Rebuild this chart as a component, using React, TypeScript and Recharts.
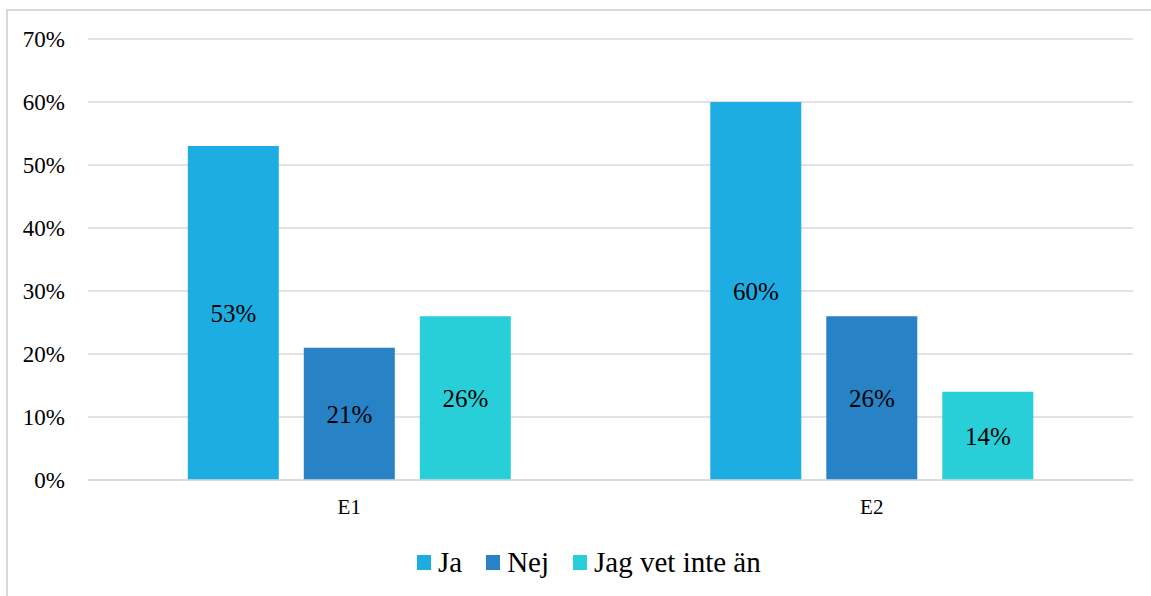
import { BarChart, Bar, XAxis, YAxis, CartesianGrid, Legend, LabelList } from 'recharts';

const categories = ['E1', 'E2'];
const ja = [53, 60];
const nej = [21, 26];
const vetInte = [26, 14];
const yTicks = [0, 10, 20, 30, 40, 50, 60, 70];

const SERIES = [
  { key: 'ja', name: 'Ja', color: '#1EADE3' },
  { key: 'nej', name: 'Nej', color: '#2782C6' },
  { key: 'vetInte', name: 'Jag vet inte än', color: '#29CFD8' },
];

const data = categories.map((name, i) => ({
  name,
  ja: ja[i],
  nej: nej[i],
  vetInte: vetInte[i],
}));

const FONT = 'Liberation Serif';

const renderLegend = () => (
  <div style={{ display: 'flex', alignItems: 'center', height: 40, paddingLeft: 417, fontFamily: FONT }}>
    {SERIES.map((s) => (
      <div key={s.key} style={{ display: 'flex', alignItems: 'center', marginRight: 24 }}>
        <span style={{ width: 14, height: 15, background: s.color, marginRight: 7, display: 'inline-block' }} />
        <span style={{ fontSize: 29, color: '#000', lineHeight: '40px' }}>{s.name}</span>
      </div>
    ))}
  </div>
);

export default function App() {
  return (
    <div style={{ position: 'fixed', left: 0, top: 0, width: 1151, height: 596, overflow: 'hidden', background: '#fff', fontFamily: FONT }}>
      {/* light grey frame, open on the right and bottom */}
      <div
        style={{
          position: 'absolute',
          left: 6,
          top: 9,
          width: 1160,
          height: 600,
          border: '2px solid #d9d9d9',
          boxSizing: 'border-box',
        }}
      />
      <div style={{ position: 'absolute', left: 0, top: 0 }}>
        <BarChart
          width={1151}
          height={596}
          data={data}
          margin={{ top: 39, right: 18, bottom: 14, left: 0 }}
          barCategoryGap="19.1%"
          barGap={25}
          style={{ fontFamily: FONT }}
        >
          <CartesianGrid vertical={false} stroke="#d9d9d9" strokeWidth={1.5} />
          <XAxis
            dataKey="name"
            height={62}
            axisLine={{ stroke: '#d9d9d9', strokeWidth: 1.5 }}
            tickLine={false}
            tickMargin={13}
            tick={{ fontSize: 21, fill: '#000', fontFamily: FONT }}
          />
          <YAxis
            width={88}
            domain={[0, 70]}
            ticks={yTicks}
            axisLine={false}
            tickLine={false}
            tickMargin={17}
            tickFormatter={(v) => `${v}%`}
            tick={{ fontSize: 23, fill: '#000', fontFamily: FONT }}
          />
          <Legend verticalAlign="bottom" content={renderLegend} wrapperStyle={{ left: 0, width: 1151 }} />
          {SERIES.map((s) => (
            <Bar key={s.key} dataKey={s.key} name={s.name} fill={s.color} isAnimationActive={false}>
              <LabelList
                dataKey={s.key}
                position="center"
                formatter={(v: number) => `${v}%`}
                fill="#000"
                fontSize={25}
                fontFamily={FONT}
              />
            </Bar>
          ))}
        </BarChart>
      </div>
    </div>
  );
}
